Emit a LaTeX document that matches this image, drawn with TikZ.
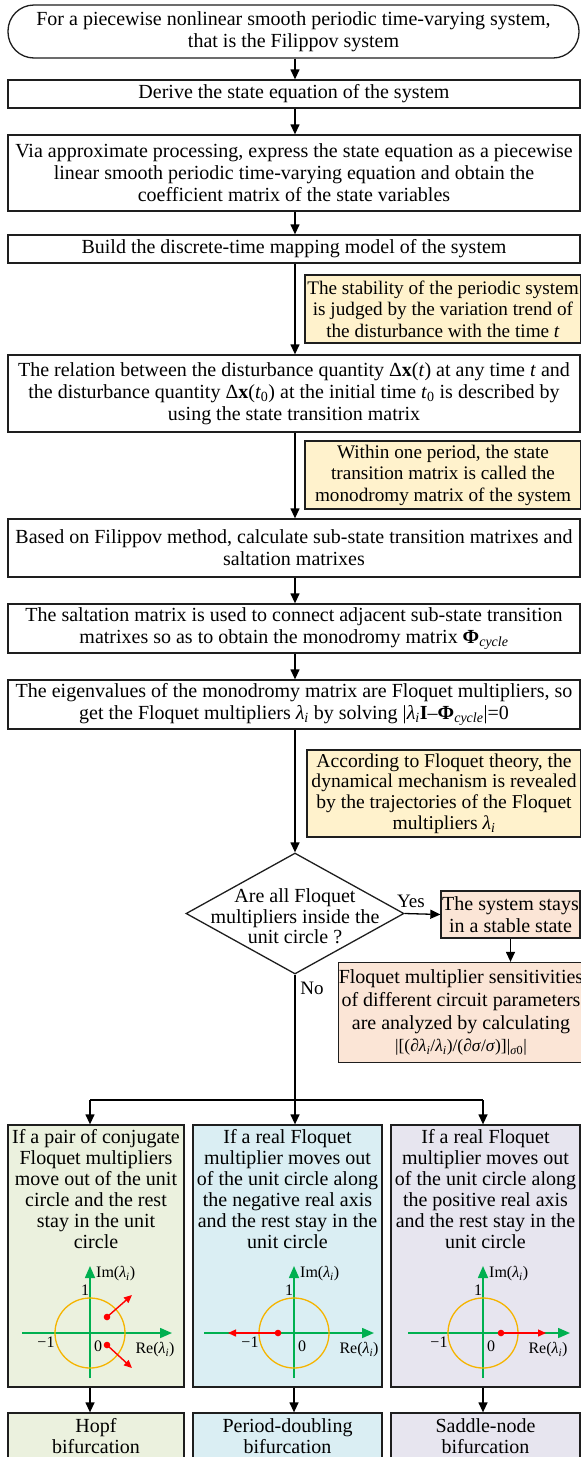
\documentclass[tikz,border=0pt]{standalone}
\usepackage{fontspec}
\setmainfont{Liberation Serif}
\usetikzlibrary{arrows.meta,shapes.geometric}
\definecolor{boxline}{HTML}{1E1E1E}
\definecolor{noteY}{HTML}{FFF2CC}
\definecolor{peach}{HTML}{FBE5D6}
\definecolor{caseG}{HTML}{EBF1DE}
\definecolor{caseBl}{HTML}{DAEEF3}
\definecolor{caseL}{HTML}{E7E5EF}
\definecolor{axgreen}{HTML}{00B050}
\definecolor{ucirc}{HTML}{F5B400}
\definecolor{redA}{HTML}{FF0000}
\newcommand{\lami}{\textit{λ}\textsubscript{\textit{i}}}
\newcommand{\unitplot}[3]{%
  \begin{scope}[shift={(#1)}]
    \draw[gaxis] (#2,0) -- (#3,0);
    \draw[gaxis] (0,45) -- (0,-67);
    \draw[ucirc, line width=1.3pt] (0,0) circle[radius=35];
    \node[lab, anchor=west] at (6,-59) {Im(\lami)};
    \node[lab] at (-5,-43) {1};
    \node[lab] at (-44,9) {−1};
    \node[lab] at (8,13) {0};
    \node[lab] at (65,17) {Re(\lami)};
  \end{scope}}
\begin{document}
\begin{tikzpicture}[x=1pt,y=-1pt,
  every node/.style={font=\fontsize{20}{22}\selectfont},
  box/.style={draw=boxline, line width=1.3pt, fill=white, align=center, inner sep=0pt},
  note/.style={box, fill=noteY, font=\fontsize{19.2}{21.5}\selectfont},
  pbox/.style={box, fill=peach},
  arr/.style={draw=black, line width=1.3pt, -{Triangle[length=10pt,width=9pt]}},
  plain/.style={draw=black, line width=1.3pt},
  gaxis/.style={draw=axgreen, line width=1.6pt, -{Triangle[length=12pt,width=10pt]}},
  rarr/.style={draw=redA, line width=1.4pt, -{Triangle[length=8pt,width=7pt]}},
  lab/.style={inner sep=0pt, font=\fontsize{16}{18}\selectfont},
  ctext/.style={align=center, inner sep=0pt, anchor=north, font=\fontsize{20}{21}\selectfont}]
\clip (0,0) rectangle (581,1457);
\fill[white] (0,0) rectangle (581,1457);
\coordinate (T) at (295,0);
% main column
\node[box, rounded corners=26pt, minimum width=571pt, minimum height=53pt] (start) at (293.5,31.5)
  {For a piecewise nonlinear smooth periodic time-varying system,\\ that is the Filippov system};
\node[box, minimum width=572pt, minimum height=28pt] (derive) at (294,94)
  {Derive the state equation of the system};
\node[box, minimum width=572pt, minimum height=76pt] (via) at (294,173)
  {Via approximate processing, express the state equation as a piecewise\\ linear smooth periodic time-varying equation and obtain the\\ coefficient matrix of the state variables};
\node[box, minimum width=572pt, minimum height=28pt] (build) at (294,249)
  {Build the discrete-time mapping model of the system};
\node[note, minimum width=276pt, minimum height=68pt] (noteA) at (443,309)
  {The stability of the periodic system\\ is judged by the variation trend of\\ the disturbance with the time \textit{t}};
\node[box, minimum width=572pt, minimum height=77pt] (relation) at (294,393.5)
  {The relation between the disturbance quantity Δ\textbf{x}(\textit{t}) at any time \textit{t} and\\ the disturbance quantity Δ\textbf{x}(\textit{t}\textsubscript{0}) at the initial time \textit{t}\textsubscript{0} is described by\\ using the state transition matrix};
\node[note, minimum width=276pt, minimum height=68pt] (noteB) at (443,475)
  {Within one period, the state\\ transition matrix is called the\\ monodromy matrix of the system};
\node[box, minimum width=572pt, minimum height=58pt] (based) at (294,548)
  {Based on Filippov method, calculate sub-state transition matrixes and\\ saltation matrixes};
\node[box, minimum width=572pt, minimum height=49pt] (salt) at (294,628.5)
  {The saltation matrix is used to connect adjacent sub-state transition\\ matrixes so as to obtain the monodromy matrix \textbf{Φ}\textsubscript{\textit{cycle}}};
\node[box, minimum width=572pt, minimum height=49pt] (eigen) at (294,704.5)
  {The eigenvalues of the monodromy matrix are Floquet multipliers, so\\ get the Floquet multipliers \lami{} by solving |\lami\textbf{I}–\textbf{Φ}\textsubscript{\textit{cycle}}|=0};
\node[note, minimum width=274pt, minimum height=87pt, font=\fontsize{19.6}{20.8}\selectfont] (noteC) at (444,793.5)
  {According to Floquet theory, the\\ dynamical mechanism is revealed\\ by the trajectories of the Floquet\\ multipliers \lami};
% decision
\node[box, shape=diamond, minimum width=218pt, minimum height=121pt] (dec) at (295,913.5) {};
\node[align=center, inner sep=0pt, font=\fontsize{20}{20.5}\selectfont] (dectext) at (295,916.5)
  {Are all Floquet\\ multipliers inside the\\ unit circle ?};
\node[pbox, minimum width=139pt, minimum height=47pt] (stable) at (510.5,914.5)
  {The system stays\\ in a stable state};
\node[pbox, minimum width=239pt, minimum height=100pt, font=\fontsize{20}{23}\selectfont] (sens) at (461,1012.5)
  {Floquet multiplier sensitivities\\ of different circuit parameters\\ are analyzed by calculating\\[-1pt]
   {\fontsize{17.5}{19}\selectfont |[(∂\lami/\lami)/(∂\textit{σ}/\textit{σ})]|\textsubscript{\textit{σ}0}|}};
\node[inner sep=0pt, font=\fontsize{19}{20}\selectfont] (yes) at (411,901) {Yes};
\node[inner sep=0pt, font=\fontsize{19}{20}\selectfont] (no) at (312,988) {No};
% cases
\node[box, fill=caseG, minimum width=176pt, minimum height=262pt] (caseA) at (96,1256) {};
\node[box, fill=caseBl, minimum width=189pt, minimum height=262pt] (caseB) at (287.5,1256) {};
\node[box, fill=caseL, minimum width=189pt, minimum height=262pt] (caseC) at (485.5,1256) {};
\node[ctext] (tA) at (96,1129) {If a pair of conjugate\\ Floquet multipliers\\ move out of the unit\\ circle and the rest\\ stay in the unit\\ circle};
\node[ctext] (tB) at (287.5,1129) {If a real Floquet\\ multiplier moves out\\ of the unit circle along\\ the negative real axis\\ and the rest stay in the\\ unit circle};
\node[ctext] (tC) at (485.5,1129) {If a real Floquet\\ multiplier moves out\\ of the unit circle along\\ the positive real axis\\ and the rest stay in the\\ unit circle};
\node[box, fill=caseG, minimum width=176pt, minimum height=62pt] (resA) at (96,1444) {};
\node[box, fill=caseBl, minimum width=189pt, minimum height=62pt] (resB) at (287.5,1444) {};
\node[box, fill=caseL, minimum width=189pt, minimum height=62pt] (resC) at (485.5,1444) {};
\node[ctext] (rA) at (96,1418) {Hopf\\ bifurcation};
\node[ctext] (rB) at (287.5,1418) {Period-doubling\\ bifurcation};
\node[ctext] (rC) at (485.5,1418) {Saddle-node\\ bifurcation};
% plots
\coordinate (oA) at (90,1333);
\coordinate (oB) at (294,1333);
\coordinate (oC) at (483,1333);
\unitplot{oA}{-68}{82}
\unitplot{oB}{-90}{80}
\unitplot{oC}{-75}{87}
\begin{scope}[shift={(oA)}]
  \fill[redA] (17,-16) circle[radius=3.3];
  \fill[redA] (17,12) circle[radius=3.3];
  \draw[rarr] (17,-16) -- (42,-38);
  \draw[rarr] (17,12) -- (42,35);
\end{scope}
\begin{scope}[shift={(oB)}]
  \fill[redA] (-16,0) circle[radius=3.3];
  \draw[rarr] (-16,0) -- (-66,0);
\end{scope}
\begin{scope}[shift={(oC)}]
  \fill[redA] (18,0) circle[radius=3.3];
  \draw[rarr] (18,0) -- (63,0);
\end{scope}
% connectors
\draw[arr] (start.south -| T) -- (derive.north -| T);
\draw[arr] (derive.south -| T) -- (via.north -| T);
\draw[arr] (via.south -| T) -- (build.north -| T);
\draw[arr] (build.south -| T) -- (relation.north -| T);
\draw[arr] (relation.south -| T) -- (based.north -| T);
\draw[arr] (based.south -| T) -- (salt.north -| T);
\draw[arr] (salt.south -| T) -- (eigen.north -| T);
\draw[arr] (eigen.south -| T) -- (dec.north);
\draw[arr] (dec.east) -- (stable.west);
\draw[arr] (stable.south) -- (stable.south |- sens.north);
\coordinate (sp) at (295,1100);
\draw[plain] (dec.south) -- (sp);
\draw[plain] (oA |- sp) -- (oC |- sp);
\draw[arr] (oA |- sp) -- (oA |- caseA.north);
\draw[arr] (sp) -- (sp |- caseB.north);
\draw[arr] (oC |- sp) -- (oC |- caseC.north);
\draw[arr] (caseA.south -| oA) -- (resA.north -| oA);
\draw[arr] (caseB.south -| oB) -- (resB.north -| oB);
\draw[arr] (caseC.south -| oC) -- (resC.north -| oC);
\end{tikzpicture}
\end{document}
